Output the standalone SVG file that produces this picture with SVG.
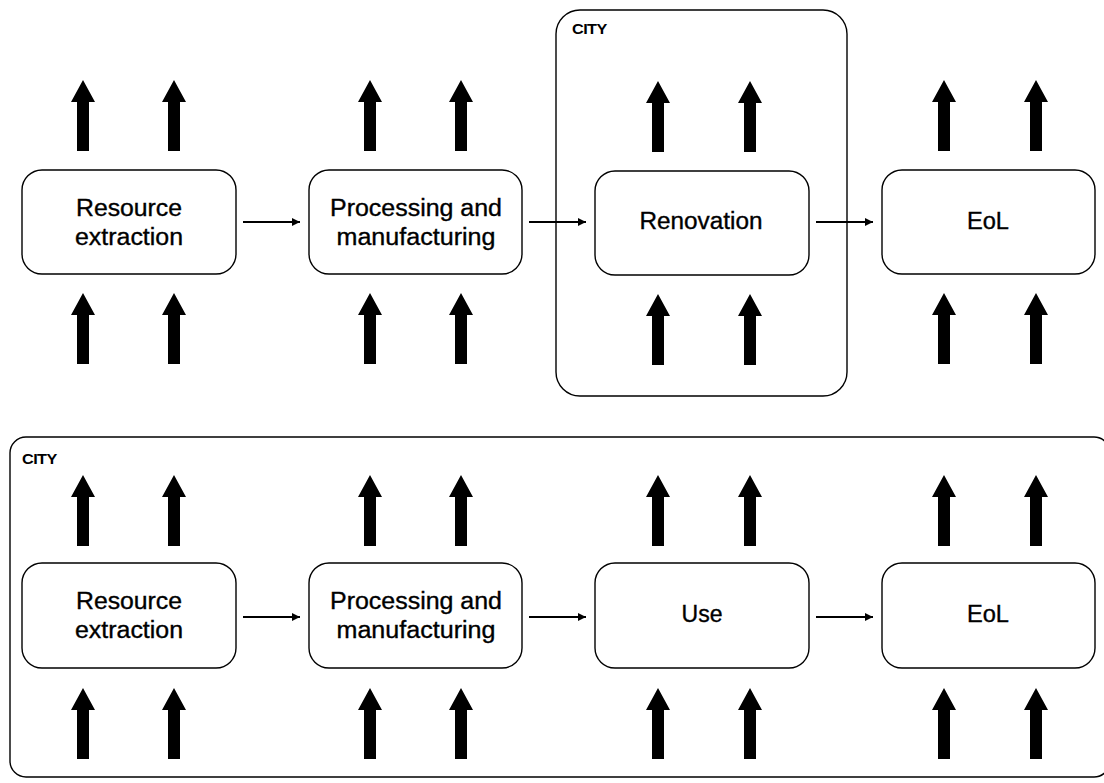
<svg xmlns="http://www.w3.org/2000/svg" xmlns:xlink="http://www.w3.org/1999/xlink" width="1104" height="783" viewBox="0 0 1104 783">
<style>
.box{fill:#fff;stroke:#000;stroke-width:1.4}
.city{fill:none;stroke:#000;stroke-width:1.4}
.lbl{font-family:"Liberation Sans",Arial,sans-serif;font-size:23px;fill:#000;stroke:#000;stroke-width:0.35;text-anchor:middle}
.ctl{font-family:"Liberation Sans",Arial,sans-serif;font-size:14.5px;font-weight:bold;fill:#000;letter-spacing:-0.5px}
.conn{stroke:#000;stroke-width:2;fill:none}
</style>
<defs>
<path id="big" d="M0,0 L12,22 L6,22 L6,71 L-6,71 L-6,22 L-12,22 Z" fill="#000"/>
<marker id="ah" markerWidth="10" markerHeight="10" refX="8" refY="4" orient="auto" markerUnits="userSpaceOnUse">
<path d="M0,0 L8,4 L0,8 Z" fill="#000"/>
</marker>
</defs>
<rect width="1104" height="783" fill="#fff"/>

<g id="city-top">
<rect class="city" x="556" y="10" width="291" height="386" rx="24"/>
<text class="ctl" transform="translate(572,34) scale(1.12,1)">CITY</text>
</g>
<g id="city-bottom">
<rect class="city" x="10" y="437" width="1100" height="340" rx="16"/>
<text class="ctl" transform="translate(22,464) scale(1.12,1)">CITY</text>
</g>

<!-- top row -->
<g id="t1">
<rect class="box" x="22" y="170" width="214" height="104" rx="20"/>
<text class="lbl" x="129" y="215.5" textLength="106" lengthAdjust="spacingAndGlyphs">Resource</text>
<text class="lbl" x="129" y="244.5" textLength="108" lengthAdjust="spacingAndGlyphs">extraction</text>
<use xlink:href="#big" x="83" y="80"/><use xlink:href="#big" x="174" y="80"/>
<use xlink:href="#big" x="83" y="293"/><use xlink:href="#big" x="174" y="293"/>
</g>
<g id="t2">
<rect class="box" x="309" y="170" width="213" height="104" rx="20"/>
<text class="lbl" x="416" y="215.5" textLength="172" lengthAdjust="spacingAndGlyphs">Processing and</text>
<text class="lbl" x="416" y="244.5" textLength="159" lengthAdjust="spacingAndGlyphs">manufacturing</text>
<use xlink:href="#big" x="370" y="80"/><use xlink:href="#big" x="461" y="80"/>
<use xlink:href="#big" x="370" y="293"/><use xlink:href="#big" x="461" y="293"/>
</g>
<g id="t3">
<rect class="box" x="595" y="171" width="214" height="104" rx="20"/>
<text class="lbl" x="701" y="228.5" textLength="123" lengthAdjust="spacingAndGlyphs">Renovation</text>
<use xlink:href="#big" x="658" y="81"/><use xlink:href="#big" x="750" y="81"/>
<use xlink:href="#big" x="658" y="294"/><use xlink:href="#big" x="750" y="294"/>
</g>
<g id="t4">
<rect class="box" x="882" y="170" width="213" height="104" rx="20"/>
<text class="lbl" x="988" y="228.5" textLength="42" lengthAdjust="spacingAndGlyphs">EoL</text>
<use xlink:href="#big" x="944" y="80"/><use xlink:href="#big" x="1036" y="80"/>
<use xlink:href="#big" x="944" y="293"/><use xlink:href="#big" x="1036" y="293"/>
</g>

<!-- bottom row -->
<g id="b1">
<rect class="box" x="22" y="563" width="214" height="105" rx="20"/>
<text class="lbl" x="129" y="609" textLength="106" lengthAdjust="spacingAndGlyphs">Resource</text>
<text class="lbl" x="129" y="638" textLength="108" lengthAdjust="spacingAndGlyphs">extraction</text>
<use xlink:href="#big" x="83" y="475"/><use xlink:href="#big" x="174" y="475"/>
<use xlink:href="#big" x="83" y="688"/><use xlink:href="#big" x="174" y="688"/>
</g>
<g id="b2">
<rect class="box" x="309" y="563" width="213" height="105" rx="20"/>
<text class="lbl" x="416" y="609" textLength="172" lengthAdjust="spacingAndGlyphs">Processing and</text>
<text class="lbl" x="416" y="638" textLength="159" lengthAdjust="spacingAndGlyphs">manufacturing</text>
<use xlink:href="#big" x="370" y="475"/><use xlink:href="#big" x="461" y="475"/>
<use xlink:href="#big" x="370" y="688"/><use xlink:href="#big" x="461" y="688"/>
</g>
<g id="b3">
<rect class="box" x="595" y="563" width="214" height="105" rx="20"/>
<text class="lbl" x="702" y="622" textLength="41" lengthAdjust="spacingAndGlyphs">Use</text>
<use xlink:href="#big" x="658" y="475"/><use xlink:href="#big" x="750" y="475"/>
<use xlink:href="#big" x="658" y="688"/><use xlink:href="#big" x="750" y="688"/>
</g>
<g id="b4">
<rect class="box" x="882" y="563" width="213" height="105" rx="20"/>
<text class="lbl" x="988" y="622" textLength="42" lengthAdjust="spacingAndGlyphs">EoL</text>
<use xlink:href="#big" x="944" y="475"/><use xlink:href="#big" x="1036" y="475"/>
<use xlink:href="#big" x="944" y="688"/><use xlink:href="#big" x="1036" y="688"/>
</g>

<g id="connectors">
<line class="conn" x1="243" y1="222" x2="300" y2="222" marker-end="url(#ah)"/>
<line class="conn" x1="529" y1="222" x2="586" y2="222" marker-end="url(#ah)"/>
<line class="conn" x1="816" y1="222" x2="873" y2="222" marker-end="url(#ah)"/>
<line class="conn" x1="243" y1="617" x2="300" y2="617" marker-end="url(#ah)"/>
<line class="conn" x1="529" y1="617" x2="586" y2="617" marker-end="url(#ah)"/>
<line class="conn" x1="816" y1="617" x2="873" y2="617" marker-end="url(#ah)"/>
</g>
</svg>
